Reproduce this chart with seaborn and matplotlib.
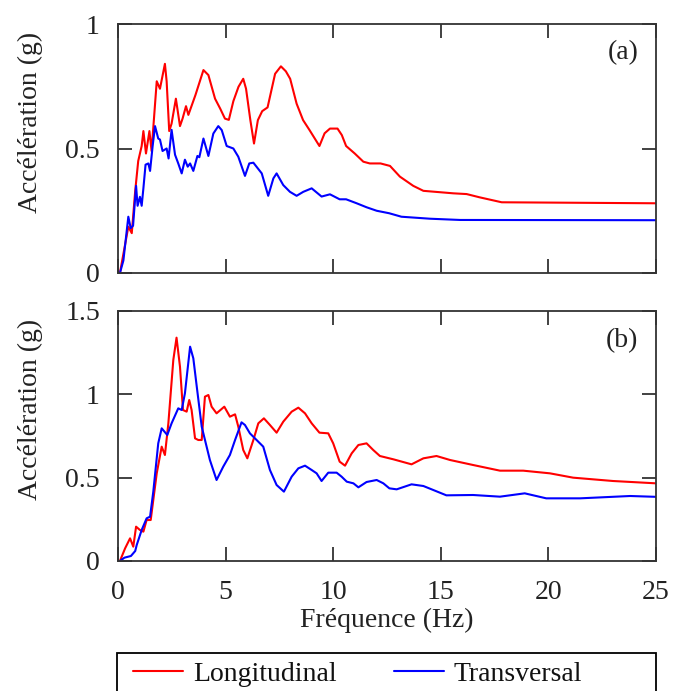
import numpy as np
import pandas as pd
import matplotlib
matplotlib.use("Agg")
import matplotlib.pyplot as plt
from matplotlib.patches import Rectangle
import seaborn as sns

# ---------------- data ----------------
# Panel (a)
a_long_f = [0.09, 0.3, 0.48, 0.64, 0.8, 0.94, 1.1, 1.18, 1.3, 1.46, 1.56, 1.8, 1.95, 2.18, 2.26,
            2.38, 2.49, 2.69, 2.88, 3.0, 3.16, 3.27, 3.6, 3.97, 4.2, 4.51, 4.75, 4.97, 5.15, 5.36,
            5.6, 5.82, 5.95, 6.15, 6.32, 6.5, 6.70, 6.95, 7.3, 7.57, 7.8, 8.0, 8.30, 8.6, 8.9,
            9.36, 9.6, 9.85, 10.2, 10.4, 10.6, 11.0, 11.4, 11.7, 12.2, 12.64, 13.1, 13.72, 14.19,
            15.58, 16.2, 16.8, 17.83, 25.0]
a_long_g = [0.0, 0.1, 0.186, 0.16, 0.33, 0.45, 0.51, 0.57, 0.48, 0.57, 0.49, 0.77, 0.74, 0.84, 0.77,
            0.57, 0.60, 0.70, 0.59, 0.62, 0.67, 0.635, 0.715, 0.815, 0.795, 0.70, 0.66, 0.62, 0.615, 0.69,
            0.748, 0.78, 0.74, 0.614, 0.52, 0.614, 0.65, 0.665, 0.80, 0.83, 0.81, 0.78, 0.68, 0.614, 0.574,
            0.51, 0.561, 0.58, 0.58, 0.554, 0.51, 0.48, 0.447, 0.44, 0.44, 0.43, 0.387, 0.35, 0.33,
            0.32, 0.317, 0.304, 0.284, 0.28]

a_trans_f = [0.09, 0.25, 0.48, 0.59, 0.7, 0.84, 0.91, 1.02, 1.1, 1.18, 1.28, 1.41, 1.49, 1.61, 1.72,
             1.87, 1.95, 2.07, 2.26, 2.35, 2.49, 2.65, 2.80, 2.96, 3.11, 3.24, 3.35, 3.50, 3.69, 3.78,
             3.97, 4.2, 4.43, 4.66, 4.82, 5.05, 5.36, 5.59, 5.90, 6.1, 6.29, 6.68, 6.98, 7.22, 7.37,
             7.68, 7.99, 8.30, 8.61, 9.0, 9.46, 9.85, 10.3, 10.6, 11.09, 11.55, 12.02, 12.6, 13.17,
             14.5, 15.9, 25.0]
a_trans_g = [0.0, 0.05, 0.226, 0.18, 0.19, 0.35, 0.27, 0.306, 0.27, 0.34, 0.435, 0.44, 0.41, 0.51, 0.59,
             0.54, 0.536, 0.49, 0.50, 0.46, 0.575, 0.475, 0.44, 0.40, 0.455, 0.427, 0.44, 0.41, 0.47, 0.465,
             0.54, 0.47, 0.56, 0.59, 0.574, 0.51, 0.50, 0.467, 0.39, 0.44, 0.443, 0.40, 0.31, 0.38, 0.40,
             0.353, 0.326, 0.31, 0.326, 0.34, 0.307, 0.316, 0.296, 0.296, 0.28, 0.264, 0.25, 0.24, 0.226,
             0.218, 0.213, 0.212]

# Panel (b)
b_long_f = [0.09, 0.33, 0.56, 0.71, 0.84, 1.02, 1.18, 1.33, 1.52, 1.64, 1.8, 2.03, 2.18, 2.34, 2.57,
            2.72, 2.88, 3.02, 3.19, 3.31, 3.42, 3.58, 3.73, 3.89, 4.04, 4.20, 4.35, 4.58, 4.94, 5.2,
            5.44, 5.59, 5.82, 6.01, 6.29, 6.52, 6.78, 7.06, 7.37, 7.68, 8.07, 8.38, 8.69, 9.0, 9.36,
            9.77, 10.0, 10.3, 10.55, 10.86, 11.17, 11.55, 11.86, 12.17, 12.8, 13.64, 14.19, 14.8,
            15.43, 16.5, 17.75, 18.83, 20.07, 21.15, 23.0, 25.0]
b_long_g = [0.0, 0.076, 0.136, 0.086, 0.206, 0.186, 0.176, 0.246, 0.246, 0.366, 0.526, 0.686, 0.636, 0.826, 1.206,
            1.34, 1.166, 0.906, 0.896, 0.966, 0.906, 0.736, 0.726, 0.726, 0.986, 0.996, 0.926, 0.886, 0.926, 0.866,
            0.88, 0.806, 0.666, 0.616, 0.726, 0.826, 0.856, 0.816, 0.77, 0.836, 0.896, 0.92, 0.886, 0.826, 0.77,
            0.766, 0.706, 0.596, 0.572, 0.646, 0.696, 0.706, 0.666, 0.63, 0.61, 0.58, 0.616, 0.63,
            0.606, 0.576, 0.542, 0.542, 0.526, 0.50, 0.48, 0.466]

b_trans_f = [0.09, 0.3, 0.6, 0.8, 0.87, 1.1, 1.33, 1.49, 1.64, 1.87, 2.03, 2.29, 2.49, 2.80, 2.96,
             3.11, 3.35, 3.50, 3.66, 3.89, 4.27, 4.58, 4.89, 5.2, 5.44, 5.74, 5.9, 6.13, 6.44, 6.75,
             7.06, 7.37, 7.71, 8.07, 8.38, 8.69, 9.0, 9.23, 9.46, 9.77, 10.16, 10.39, 10.63, 10.94,
             11.17, 11.55, 12.02, 12.33, 12.61, 12.95, 13.64, 14.19, 14.65, 15.26, 16.5, 17.75, 18.9,
             19.9, 21.47, 23.8, 25.0]
b_trans_g = [0.0, 0.02, 0.03, 0.06, 0.096, 0.186, 0.256, 0.266, 0.416, 0.706, 0.796, 0.756, 0.826, 0.916, 0.906,
             1.006, 1.286, 1.216, 1.046, 0.806, 0.606, 0.486, 0.566, 0.636, 0.726, 0.832, 0.816, 0.766, 0.726, 0.686,
             0.546, 0.456, 0.416, 0.506, 0.556, 0.572, 0.546, 0.526, 0.48, 0.53, 0.53, 0.506, 0.476, 0.466,
             0.442, 0.474, 0.486, 0.466, 0.436, 0.43, 0.46, 0.45, 0.426, 0.394, 0.396, 0.386, 0.406,
             0.376, 0.376, 0.39, 0.385]

series_names = ["Longitudinal", "Transversal"]
series_colors = ["#ff0000", "#0000ff"]
x_ticks = [0, 5, 10, 15, 20, 25]
y_ticks_a = [0, 0.5, 1]
y_ticks_b = [0, 0.5, 1, 1.5]
y_tick_labels_a = ["0", "0.5", "1"]
y_tick_labels_b = ["0", "0.5", "1", "1.5"]
x_label = "Fréquence (Hz)"
y_label = "Accélération (g)"
panel_tags = ["(a)", "(b)"]

# ---------------- style ----------------
sns.set_style("ticks")
plt.rcParams["font.family"] = ["Liberation Serif", "DejaVu Serif"]
plt.rcParams["font.size"] = 20

W, H = 673, 691
fig = plt.figure(figsize=(W / 100, H / 100), dpi=100)

L, R = 118, 656
ax_a = fig.add_axes([L / W, 1 - 273 / H, (R - L) / W, (273 - 24) / H])
ax_b = fig.add_axes([L / W, 1 - 561 / H, (R - L) / W, (561 - 311) / H])

panels = [
    (ax_a, [(a_long_f, a_long_g), (a_trans_f, a_trans_g)], y_ticks_a, y_tick_labels_a, (0, 1)),
    (ax_b, [(b_long_f, b_long_g), (b_trans_f, b_trans_g)], y_ticks_b, y_tick_labels_b, (0, 1.5)),
]

spine_col = "#333333"
txt_col = "#222222"
for i, (ax, data, yt, ytl, ylim) in enumerate(panels):
    for (f, g), name, col in zip(data, series_names, series_colors):
        df = pd.DataFrame({"Fréquence": f, "Accélération": g})
        sns.lineplot(data=df, x="Fréquence", y="Accélération", ax=ax, color=col,
                     linewidth=1.5, label=name, legend=False, errorbar=None)
    ax.set_xlim(0, 25)
    ax.set_ylim(*ylim)
    ax.set_xticks(x_ticks)
    ax.set_yticks(yt)
    ax.set_yticklabels(ytl)
    ax.tick_params(direction="in", top=True, right=True, length=10, width=1.3,
                   color=spine_col, labelsize=20, labelcolor=txt_col)
    ax.tick_params(axis="y", pad=13)
    ax.tick_params(axis="x", pad=14)
    for s in ax.spines.values():
        s.set_visible(True)
        s.set_color(spine_col)
        s.set_linewidth(1.3)
    ax.set_ylabel(y_label, fontsize=20, color=txt_col)
    ax.yaxis.set_label_coords(-0.14, 0.605)
    ax.text(0.967, 0.884 if i == 0 else 0.88, panel_tags[i], transform=ax.transAxes,
            ha="right", va="center", fontsize=20, color=txt_col)

ax_a.set_xlabel("")
ax_a.set_xticklabels([])
ax_b.set_xticklabels([str(t) for t in x_ticks])
ax_b.set_xlabel(x_label, fontsize=20, color=txt_col, labelpad=2)

# legend
handles, labels = ax_a.get_legend_handles_labels()
leg = fig.legend(handles, labels, loc="center left",
                 bbox_to_anchor=(133 / W, 1 - 674 / H), ncol=2, frameon=False,
                 borderpad=0, borderaxespad=0, handlelength=1.8, handletextpad=0.36,
                 columnspacing=2.05, fontsize=20)
for t in leg.get_texts():
    t.set_color("#111111")
fig.add_artist(Rectangle((117.3 / W, -0.05), (656 - 117.3) / W, 0.05 + (1 - 652.7 / H),
                         transform=fig.transFigure, fill=False, edgecolor="black",
                         linewidth=1.3, clip_on=False))

fig.savefig("out.png", dpi=100)
